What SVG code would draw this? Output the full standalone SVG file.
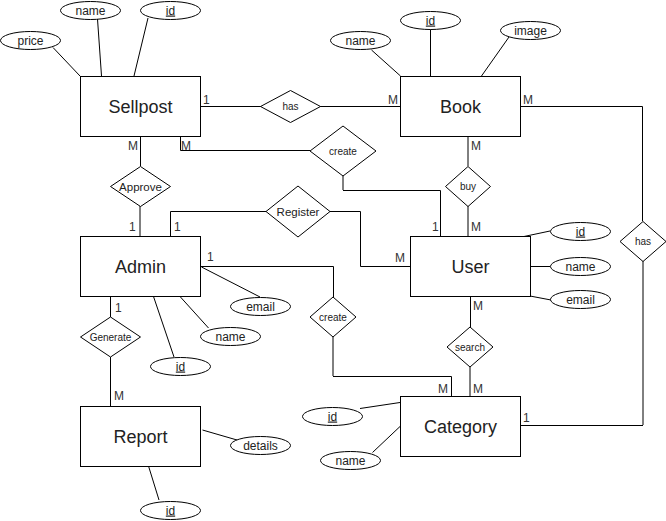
<svg xmlns="http://www.w3.org/2000/svg" width="666" height="521" viewBox="0 0 666 521">
<style>
.ent{fill:#fff;stroke:#000;stroke-width:1}
.att{fill:#fff;stroke:#000;stroke-width:1}
.rel{fill:#fff;stroke:#000;stroke-width:1}
.ln{fill:none;stroke:#000;stroke-width:1}
.t{font-family:"Liberation Sans",Arial,sans-serif;fill:#222;text-anchor:middle}
.et{font-size:18px}
.at{font-size:12px}
.rt{font-size:10px}
.ct{font-family:"Liberation Sans",Arial,sans-serif;font-size:12px;fill:#333}
.u{text-decoration:underline}
</style>
<rect width="666" height="521" fill="#fff"/>
<g id="connectors">
  <!-- Sellpost attributes -->
  <line class="ln" x1="53" y1="47.5" x2="80" y2="76"/>
  <line class="ln" x1="97.5" y1="19" x2="101.5" y2="76"/>
  <line class="ln" x1="148" y1="18" x2="134" y2="76"/>
  <!-- Book attributes -->
  <line class="ln" x1="371.5" y1="50" x2="400.5" y2="76"/>
  <line class="ln" x1="430.5" y1="29" x2="430.5" y2="76"/>
  <line class="ln" x1="509" y1="37" x2="481.5" y2="76"/>
  <!-- User attributes -->
  <line class="ln" x1="524" y1="236.5" x2="550" y2="231"/>
  <line class="ln" x1="530" y1="266.5" x2="550" y2="266.5"/>
  <line class="ln" x1="530" y1="296" x2="551" y2="300"/>
  <!-- Admin attributes -->
  <line class="ln" x1="201.5" y1="267" x2="260" y2="297"/>
  <line class="ln" x1="180" y1="296.5" x2="208.5" y2="328"/>
  <line class="ln" x1="153.5" y1="296.5" x2="174" y2="357"/>
  <!-- Report attributes -->
  <line class="ln" x1="202.5" y1="430" x2="237" y2="440"/>
  <line class="ln" x1="148.5" y1="466" x2="159" y2="500"/>
  <!-- Category attributes -->
  <line class="ln" x1="360" y1="408.5" x2="400" y2="402.5"/>
  <line class="ln" x1="372.5" y1="452.5" x2="400" y2="426.5"/>
  <!-- Sellpost has Book -->
  <line class="ln" x1="200" y1="106.5" x2="400" y2="106.5"/>
  <!-- Sellpost create User -->
  <polyline class="ln" points="180.5,136 180.5,150.5 310,150.5"/>
  <line class="ln" x1="343" y1="176" x2="343" y2="190"/>
  <polyline class="ln" points="343,190.5 440.5,190.5 440.5,236"/>
  <!-- Sellpost Approve Admin -->
  <line class="ln" x1="140.5" y1="136" x2="140.5" y2="166"/>
  <line class="ln" x1="140" y1="206" x2="140" y2="236"/>
  <!-- Admin Register User -->
  <polyline class="ln" points="170.5,236 170.5,211.5 266,211.5"/>
  <polyline class="ln" points="330,211.5 360.5,211.5 360.5,266.5 410,266.5"/>
  <!-- Book buy User -->
  <line class="ln" x1="468" y1="136" x2="468" y2="166"/>
  <line class="ln" x1="468" y1="206" x2="468" y2="236"/>
  <!-- Book has Category -->
  <polyline class="ln" points="520,106.5 642.5,106.5 642.5,221"/>
  <line class="ln" x1="643" y1="261" x2="643" y2="425"/>
  <polyline class="ln" points="643,425.5 520,425.5"/>
  <!-- Admin create Category -->
  <polyline class="ln" points="200,266.5 333.5,266.5 333.5,297"/>
  <line class="ln" x1="333" y1="337" x2="333" y2="376"/>
  <polyline class="ln" points="333,376.5 451.5,376.5 451.5,396"/>
  <!-- User search Category -->
  <line class="ln" x1="470.5" y1="296" x2="470.5" y2="327"/>
  <line class="ln" x1="470" y1="367" x2="470" y2="396"/>
  <!-- Admin Generate Report -->
  <line class="ln" x1="110.5" y1="296" x2="110.5" y2="317"/>
  <line class="ln" x1="110.5" y1="357" x2="110.5" y2="406"/>
  <!-- cardinalities -->
  <text class="ct" x="203" y="104">1</text>
  <text class="ct" x="388" y="104">M</text>
  <text class="ct" x="523" y="104">M</text>
  <text class="ct" x="471" y="150">M</text>
  <text class="ct" x="128" y="150">M</text>
  <text class="ct" x="181" y="150">M</text>
  <text class="ct" x="129" y="231">1</text>
  <text class="ct" x="174" y="231">1</text>
  <text class="ct" x="432" y="231">1</text>
  <text class="ct" x="471" y="231">M</text>
  <text class="ct" x="395" y="262">M</text>
  <text class="ct" x="473" y="310">M</text>
  <text class="ct" x="207" y="261">1</text>
  <text class="ct" x="115" y="312">1</text>
  <text class="ct" x="114" y="400">M</text>
  <text class="ct" x="438" y="393">M</text>
  <text class="ct" x="473" y="393">M</text>
  <text class="ct" x="523" y="422">1</text>
</g>
<g id="sellpost"><rect class="ent" x="80.5" y="76.5" width="120" height="60"/><text class="t et" x="140.5" y="113">Sellpost</text></g>
<g id="book"><rect class="ent" x="400.5" y="76.5" width="120" height="60"/><text class="t et" x="460.5" y="113">Book</text></g>
<g id="admin"><rect class="ent" x="80.5" y="236.5" width="120" height="60"/><text class="t et" x="140.5" y="273">Admin</text></g>
<g id="user"><rect class="ent" x="410.5" y="236.5" width="120" height="60"/><text class="t et" x="470.5" y="273">User</text></g>
<g id="category"><rect class="ent" x="400.5" y="396.5" width="120" height="60"/><text class="t et" x="460.5" y="433">Category</text></g>
<g id="report"><rect class="ent" x="80.5" y="406.5" width="120" height="60"/><text class="t et" x="140.5" y="443">Report</text></g>

<g id="sellpost-price"><ellipse class="att" cx="30.5" cy="40.5" rx="30" ry="9"/><text class="t at" x="30.5" y="44.5">price</text></g>
<g id="sellpost-name"><ellipse class="att" cx="90.5" cy="10.5" rx="30" ry="9"/><text class="t at" x="90.5" y="14.5">name</text></g>
<g id="sellpost-id"><ellipse class="att" cx="170.5" cy="10.5" rx="30" ry="9"/><text class="t at u" x="170.5" y="14.5">id</text></g>
<g id="book-name"><ellipse class="att" cx="360.5" cy="40.5" rx="30" ry="9"/><text class="t at" x="360.5" y="44.5">name</text></g>
<g id="book-id"><ellipse class="att" cx="430.5" cy="20.5" rx="30" ry="9"/><text class="t at u" x="430.5" y="24.5">id</text></g>
<g id="book-image"><ellipse class="att" cx="530.5" cy="30.5" rx="30" ry="9"/><text class="t at" x="530.5" y="34.5">image</text></g>
<g id="user-id"><ellipse class="att" cx="580.5" cy="231.5" rx="30" ry="9"/><text class="t at u" x="580.5" y="235.5">id</text></g>
<g id="user-name"><ellipse class="att" cx="580.5" cy="266.5" rx="30" ry="9"/><text class="t at" x="580.5" y="270.5">name</text></g>
<g id="user-email"><ellipse class="att" cx="580.5" cy="299.5" rx="30" ry="9"/><text class="t at" x="580.5" y="303.5">email</text></g>
<g id="admin-email"><ellipse class="att" cx="260.5" cy="306.5" rx="30" ry="9"/><text class="t at" x="260.5" y="310.5">email</text></g>
<g id="admin-name"><ellipse class="att" cx="230.5" cy="336.5" rx="30" ry="9"/><text class="t at" x="230.5" y="340.5">name</text></g>
<g id="admin-id"><ellipse class="att" cx="180.5" cy="366.5" rx="30" ry="9"/><text class="t at u" x="180.5" y="370.5">id</text></g>
<g id="report-details"><ellipse class="att" cx="260.5" cy="445.5" rx="30" ry="9"/><text class="t at" x="260.5" y="449.5">details</text></g>
<g id="report-id"><ellipse class="att" cx="170.5" cy="510.5" rx="30" ry="9"/><text class="t at u" x="170.5" y="514.5">id</text></g>
<g id="category-id"><ellipse class="att" cx="332.5" cy="416.5" rx="30" ry="9"/><text class="t at u" x="332.5" y="420.5">id</text></g>
<g id="category-name"><ellipse class="att" cx="350.5" cy="460.5" rx="30" ry="9"/><text class="t at" x="350.5" y="464.5">name</text></g>

<g id="rel-has1"><polygon class="rel" points="290.5,90.5 320.5,106.5 290.5,122.5 260.5,106.5"/><text class="t rt" x="290.5" y="110">has</text></g>
<g id="rel-create1"><polygon class="rel" points="343,126 376,151 343,176 310,151"/><text class="t rt" x="343" y="155">create</text></g>
<g id="rel-approve"><polygon class="rel" points="140.5,166.5 170.5,186.5 140.5,206.5 110.5,186.5"/><text class="t rt" x="140.5" y="190.5" style="font-size:11.5px">Approve</text></g>
<g id="rel-register"><polygon class="rel" points="298,186 330,211.5 298,237 266,211.5"/><text class="t rt" x="298" y="215.5" style="font-size:11.5px">Register</text></g>
<g id="rel-buy"><polygon class="rel" points="468,166.5 490.5,186.5 468,206.5 445.5,186.5"/><text class="t rt" x="468" y="190">buy</text></g>
<g id="rel-has2"><polygon class="rel" points="643,221.5 666,241.5 643,261.5 620,241.5"/><text class="t rt" x="643" y="245">has</text></g>
<g id="rel-create2"><polygon class="rel" points="333,297 356,317 333,337 310,317"/><text class="t rt" x="333" y="320.5">create</text></g>
<g id="rel-search"><polygon class="rel" points="470,327 493,347 470,367 447,347"/><text class="t rt" x="470" y="350.5">search</text></g>
<g id="rel-generate"><polygon class="rel" points="110.5,317 140.5,337 110.5,357 80.5,337"/><text class="t rt" x="110.5" y="340.5">Generate</text></g>
</svg>
